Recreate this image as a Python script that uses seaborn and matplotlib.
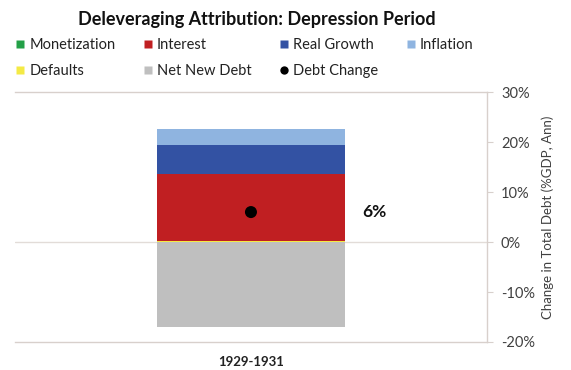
import matplotlib
matplotlib.use("Agg")
import matplotlib.pyplot as plt
import seaborn as sns
import pandas as pd
from matplotlib.lines import Line2D
from matplotlib.ticker import FuncFormatter

sns.set_style("white")
plt.rcParams['font.family'] = ['Lato', 'DejaVu Sans']

period = ["1929-1931"]
monetization = [0.0]
defaults = [0.3]
interest = [13.3]
real_growth = [5.8]
inflation = [3.3]
net_new_debt = [-17.0]
debt_change = [6.0]
yticks = [-20, -10, 0, 10, 20, 30]

colors = {
    "Monetization": "#23a047",
    "Interest": "#c01f22",
    "Real Growth": "#3352a3",
    "Inflation": "#8fb4e0",
    "Defaults": "#f4ea45",
    "Net New Debt": "#bfbfbf",
    "Debt Change": "#000000",
}

df = pd.DataFrame({"period": period})

fig = plt.figure(figsize=(5.71, 3.70), dpi=100)
ax = fig.add_axes([0.026, 0.0757, 0.827, 0.6753])

# negative stack
sns.barplot(x=df["period"], y=net_new_debt, color=colors["Net New Debt"], width=0.4, ax=ax,
            saturation=1, linewidth=0)
# positive stack
bottom = [0.0]
for name, vals in [("Monetization", monetization), ("Defaults", defaults), ("Interest", interest),
                   ("Real Growth", real_growth), ("Inflation", inflation)]:
    sns.barplot(x=df["period"], y=vals, bottom=bottom, color=colors[name], width=0.4, ax=ax,
                saturation=1, linewidth=0)
    bottom = [b + v for b, v in zip(bottom, vals)]

sns.scatterplot(x=df["period"], y=debt_change, color="black", s=75, ax=ax, zorder=5, edgecolor="none")
ax.text(0.235, debt_change[0], f"{debt_change[0]:.0f}%", fontsize=12.5, fontweight="bold",
        va="center", ha="left", color="#111111")

ax.set_xlim(-0.5, 0.5)
ax.set_ylim(-20, 30)
ax.set_yticks(yticks)
ax.yaxis.set_major_formatter(FuncFormatter(lambda v, p: f"{v:.0f}%"))
ax.yaxis.tick_right()
ax.yaxis.set_label_position("right")
ax.tick_params(axis="y", which="both", right=True, length=4, color="#d8d0cc", labelsize=10.5,
               labelcolor="#404040", pad=6)
ax.tick_params(axis="x", length=0, labelsize=9.5, pad=10)
for lab in ax.get_xticklabels():
    lab.set_fontweight("bold")
    lab.set_color("#222222")
ax.set_xlabel("")
ax.set_ylabel("Change in Total Debt (%GDP, Ann)", fontsize=9.5, color="#404040", labelpad=5)

ax.axhline(0, color="#e2dcd8", lw=1, zorder=0)
for side in ["top", "bottom", "right"]:
    ax.spines[side].set_color("#d8d0cc")
    ax.spines[side].set_linewidth(1)
ax.spines["left"].set_visible(False)

fig.text(0.45, 0.946, "Deleveraging Attribution: Depression Period", ha="center", va="center",
         fontsize=13, fontweight="bold", color="#111111")

def sq(c):
    return Line2D([0], [0], marker="s", color="none", markerfacecolor=c, markeredgecolor="none", markersize=6)

handles = {
    "Monetization": sq(colors["Monetization"]),
    "Interest": sq(colors["Interest"]),
    "Real Growth": sq(colors["Real Growth"]),
    "Inflation": sq(colors["Inflation"]),
    "Defaults": sq(colors["Defaults"]),
    "Net New Debt": sq(colors["Net New Debt"]),
    "Debt Change": Line2D([0], [0], marker="o", color="none", markerfacecolor="black", markeredgecolor="none", markersize=6),
}
order = ["Monetization", "Defaults", "Interest", "Net New Debt", "Real Growth", "Debt Change", "Inflation"]
leg = fig.legend([handles[k] for k in order], order, ncol=4, loc="upper left",
                 bbox_to_anchor=(0.018, 0.914), frameon=False, fontsize=10.5,
                 handlelength=0.6, handletextpad=0.3, columnspacing=1.95, labelspacing=0.85,
                 borderaxespad=0)
for t in leg.get_texts():
    t.set_color("#222222")

fig.savefig("out.png", dpi=100)
